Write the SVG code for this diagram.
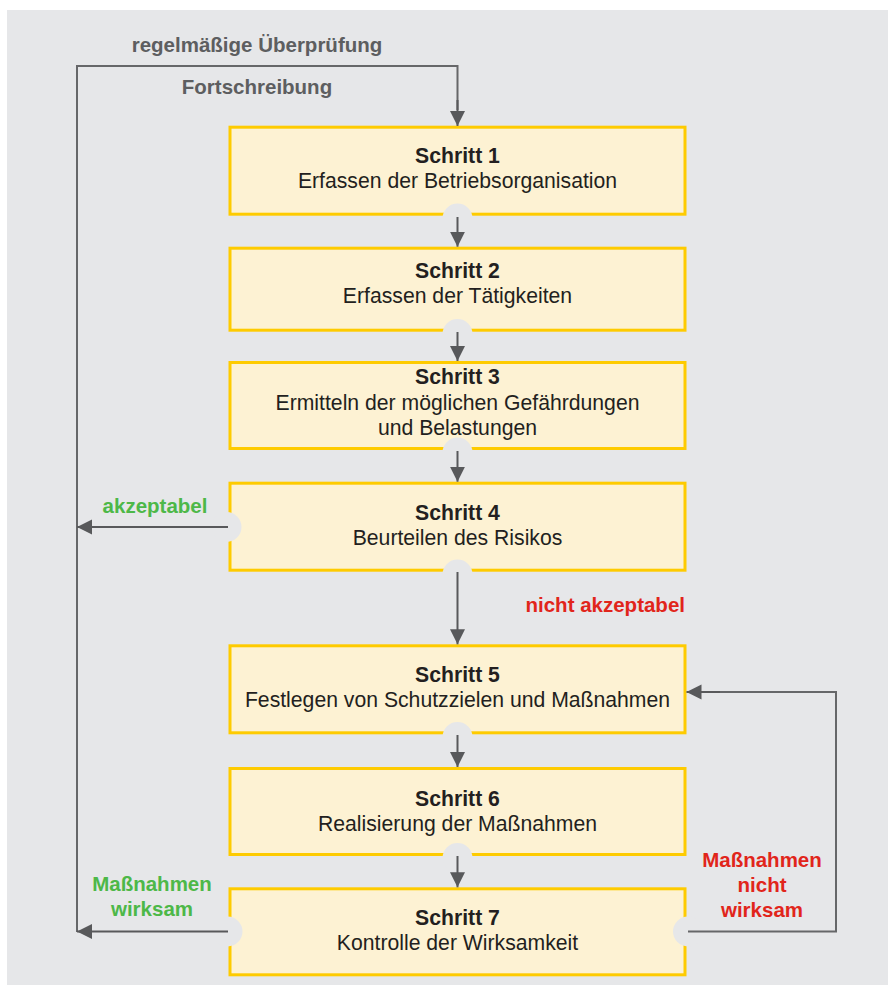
<svg xmlns="http://www.w3.org/2000/svg" width="888" height="985" viewBox="0 0 888 985">
  <defs>
    <marker id="ah" markerUnits="userSpaceOnUse" markerWidth="16" markerHeight="16" viewBox="0 0 16 16" refX="15" refY="8" orient="auto">
      <path d="M0,0.5 L15,8 L0,15.5 Z" fill="#58595b"/>
    </marker>
    <style>
      .box { fill: #fdf2d3; stroke: #fecb00; stroke-width: 3; }
      .cut { fill: #e6e7e9; }
      .ln { fill: none; stroke: #666769; stroke-width: 2; }
      .arr { fill: none; stroke: #58595b; stroke-width: 2; marker-end: url(#ah); }
      .t { font-family: "Liberation Sans", Arial, sans-serif; font-size: 21.2px; fill: #231f20; text-anchor: middle; }
      .b { font-weight: bold; }
      .lbl { font-family: "Liberation Sans", Arial, sans-serif; font-size: 20.5px; font-weight: bold; text-anchor: middle; }
      .gray { fill: #5d5e60; }
      .green { fill: #4db848; }
      .red { fill: #e1251b; }
    </style>
  </defs>
  <rect x="7" y="10" width="881" height="975" fill="#e6e7e9"/>

  <g id="n1">
    <rect class="box" x="230" y="127.2" width="455" height="87"/>
    <text class="t b" x="457.5" y="163">Schritt 1</text>
    <text class="t" x="457.5" y="188">Erfassen der Betriebsorganisation</text>
    <circle class="cut" cx="457.5" cy="218.5" r="15"/>
  </g>
  <g id="n2">
    <rect class="box" x="230" y="248.2" width="455" height="82"/>
    <text class="t b" x="457.5" y="278">Schritt 2</text>
    <text class="t" x="457.5" y="303">Erfassen der Tätigkeiten</text>
    <circle class="cut" cx="457.5" cy="334" r="15"/>
  </g>
  <g id="n3">
    <rect class="box" x="230" y="362.5" width="455" height="86"/>
    <text class="t b" x="457.5" y="384">Schritt 3</text>
    <text class="t" x="457.5" y="409.5">Ermitteln der möglichen Gefährdungen</text>
    <text class="t" x="457.5" y="434.5">und Belastungen</text>
    <circle class="cut" cx="457.5" cy="452.5" r="15"/>
  </g>
  <g id="n4">
    <rect class="box" x="230" y="483.2" width="455" height="87"/>
    <text class="t b" x="457.5" y="520">Schritt 4</text>
    <text class="t" x="457.5" y="545">Beurteilen des Risikos</text>
    <circle class="cut" cx="457.5" cy="574.5" r="15"/>
    <circle class="cut" cx="226.5" cy="527" r="15"/>
  </g>
  <g id="n5">
    <rect class="box" x="230" y="645.8" width="455" height="87"/>
    <text class="t b" x="457.5" y="682">Schritt 5</text>
    <text class="t" x="457.5" y="707">Festlegen von Schutzzielen und Maßnahmen</text>
    <circle class="cut" cx="457.5" cy="737" r="15"/>
  </g>
  <g id="n6">
    <rect class="box" x="230" y="768.5" width="455" height="86"/>
    <text class="t b" x="457.5" y="806">Schritt 6</text>
    <text class="t" x="457.5" y="831">Realisierung der Maßnahmen</text>
    <circle class="cut" cx="457.5" cy="858" r="15"/>
  </g>
  <g id="n7">
    <rect class="box" x="230" y="888.8" width="455" height="86"/>
    <text class="t b" x="457.5" y="925">Schritt 7</text>
    <text class="t" x="457.5" y="950">Kontrolle der Wirksamkeit</text>
    <circle class="cut" cx="227.5" cy="931.5" r="15"/>
    <circle class="cut" cx="688" cy="931.5" r="15"/>
  </g>

  <g id="connectors">
    <path class="ln" d="M77 932 V66 H457.5 V110"/>
    <path class="arr" d="M457.5 100 V126"/>
    <path class="arr" d="M457.5 217 V246.7"/>
    <path class="arr" d="M457.5 332 V361"/>
    <path class="arr" d="M457.5 451 V481.7"/>
    <path class="arr" d="M457.5 572 V644.3"/>
    <path class="arr" d="M457.5 735 V767"/>
    <path class="arr" d="M457.5 856 V887.3"/>
    <path class="arr" d="M228 527 H77"/>
    <path class="arr" d="M228 931.5 H77"/>
    <path class="ln" d="M688 931.5 H836 V692 H710"/>
    <path class="arr" d="M720 692 H686.5"/>
  </g>

  <g id="labels">
    <text class="lbl gray" x="257" y="52">regelmäßige Überprüfung</text>
    <text class="lbl gray" x="257" y="94">Fortschreibung</text>
    <text class="lbl green" x="155" y="513">akzeptabel</text>
    <text class="lbl red" x="685" y="612" style="text-anchor:end">nicht akzeptabel</text>
    <text class="lbl green" x="152" y="891">Maßnahmen</text>
    <text class="lbl green" x="152" y="916">wirksam</text>
    <text class="lbl red" x="762" y="867">Maßnahmen</text>
    <text class="lbl red" x="762" y="892">nicht</text>
    <text class="lbl red" x="762" y="917">wirksam</text>
  </g>
</svg>
